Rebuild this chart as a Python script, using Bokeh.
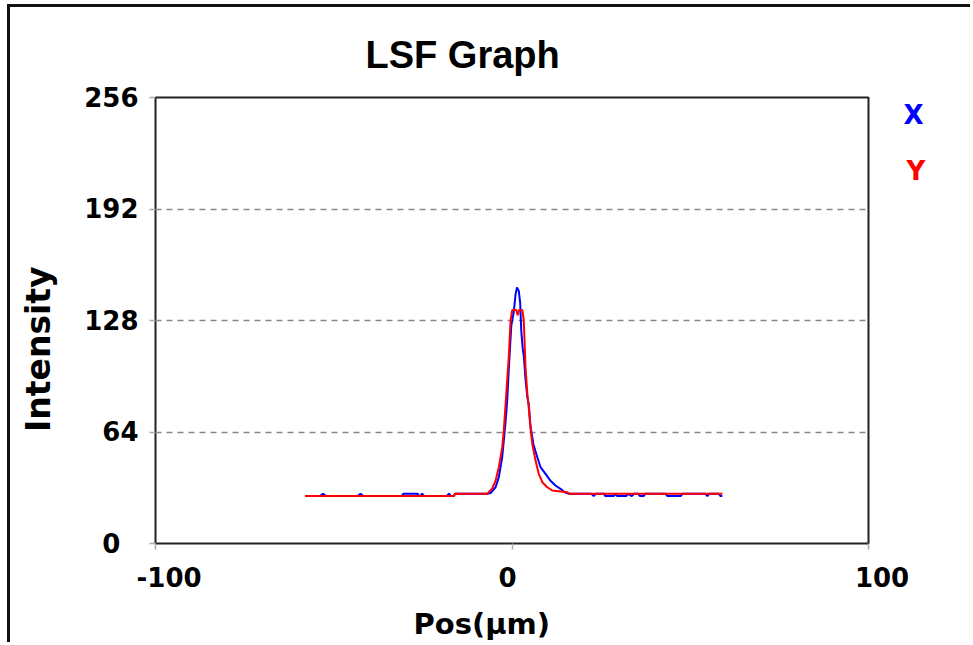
from bokeh.plotting import figure
from bokeh.models import FixedTicker, Range1d, LinearAxis
from bokeh.embed import file_html
from bokeh.resources import INLINE

# ---- data ----
x_ticks = [-100, 0, 100]
y_ticks = [0, 64, 128, 192, 256]
grid_ticks = [64, 128, 192]

blue_x = [-58, -53.8, -53, -52.2, -43.3, -42.5, -41.7, -31, -30.4, -26.5, -26, -25.7,
          -25.2, -24.6, -18.3, -17.7, -17.1, -16.3, -16, -7, -6, -4.6, -3.7, -2.75,
          -2.3, -1.8, -1.35, -0.9, -0.2, 0.5, 1.0, 1.4, 1.9, 2.3, 2.6, 3.0, 3.3, 3.8,
          4.3, 4.7, 5.2, 6.0, 7.1, 8.0, 9.4, 10.8, 12.2, 13.6, 14.8, 16, 22.3, 22.9,
          23.5, 25.8, 26.2, 28.5, 29.0, 29.5, 32.0, 32.5, 33.6, 34.2, 35.4, 35.9, 36.9,
          37.4, 43.1, 43.6, 47.3, 47.8, 54.3, 54.8, 55.3, 58.0, 58.5, 59]
blue_y = [27.2, 27.2, 28.6, 27.2, 27.2, 28.6, 27.2, 27.2, 28.6, 28.6, 27.2, 27.2,
          28.6, 27.2, 27.2, 28.6, 27.2, 27.2, 28.5, 28.5, 29, 32.3, 38, 49.5,
          59, 70, 82, 100, 125, 133, 143, 147, 145, 138, 122, 112, 108, 94,
          84, 80, 67, 57, 49.5, 43.8, 40, 36, 33.3, 31.4, 29.4, 28.5, 28.5, 27.2,
          28.5, 28.5, 27.2, 27.2, 28.5, 27.2, 27.2, 28.5, 27.2, 28.5, 28.5, 27.2, 27.2,
          28.5, 28.5, 27.2, 27.2, 28.5, 28.5, 27.2, 28.5, 28.5, 27.2, 27.2]

red_x = [-58, -16.3, -16, -7, -5.6, -4.6, -3.7, -2.75, -2.3, -1.8, -1.35, -0.9,
         -0.4, 0.05, 1.2, 1.6, 2.0, 2.9, 3.3, 3.8, 4.3, 4.7, 5.2, 5.7, 6.6, 7.5,
         8.5, 9.9, 11.3, 15.5, 16, 59]
red_y = [27.2, 27.2, 28.5, 28.5, 31.4, 36, 43.8, 55, 65, 80, 93.6, 107,
         128, 134, 134, 131, 134, 134, 128, 101, 86, 78, 66, 57, 47.6, 40,
         35.2, 32.3, 30.4, 29.4, 28.5, 28.5]

title_text = "LSF Graph"
x_label = "Pos(μm)"
y_label = "Intensity"
series_names = ["X", "Y"]
series_colors = ["#0000FF", "#FF0000"]
legend_levels = [246, 214]

NB = "\u00a0"

p = figure(width=963, height=638, output_backend="svg", toolbar_location=None,
           x_range=Range1d(-100, 100), y_range=Range1d(0, 256),
           min_border_left=145, min_border_right=105, min_border_top=90, min_border_bottom=102)
p.styles = {"border-left": "3px solid #111", "border-top": "3px solid #111",
            "margin-left": "7px", "margin-top": "4px"}
p.background_fill_color = "white"
p.border_fill_color = "white"
p.outline_line_color = "#222222"
p.outline_line_width = 2

p.title.text = title_text
p.title.align = "left"
p.title.offset = 210
p.title.standoff = 44
p.title.text_font = "Liberation Sans"
p.title.text_font_style = "bold"
p.title.text_font_size = "38px"
p.title.text_color = "black"

p.xgrid.visible = False
p.ygrid.ticker = FixedTicker(ticks=grid_ticks)
p.ygrid.grid_line_color = "#888888"
p.ygrid.grid_line_width = 1.5
p.ygrid.grid_line_dash = "6 5"

p.xaxis.ticker = FixedTicker(ticks=x_ticks)
p.xaxis.major_label_overrides = {-100: NB * 3 + "-100", 0: "0" + NB, 100: NB * 3 + "100"}
p.yaxis.ticker = FixedTicker(ticks=y_ticks)
p.yaxis.major_label_overrides = {0: "0" + NB * 2}
for ax in (p.xaxis[0], p.yaxis[0]):
    ax.axis_line_color = None
    ax.major_tick_line_color = "#aaaaaa"
    ax.major_tick_line_width = 1.5
    ax.major_tick_out = 6
    ax.major_tick_in = 0
    ax.minor_tick_line_color = None
    ax.major_label_text_font = "DejaVu Sans"
    ax.major_label_text_font_style = "bold"
    ax.major_label_text_font_size = "26px"
    ax.major_label_text_color = "black"
    ax.axis_label_text_font = "DejaVu Sans"
    ax.axis_label_text_font_style = "bold"
    ax.axis_label_text_color = "black"
p.yaxis.major_label_standoff = 11
p.xaxis.major_label_standoff = 13
p.xaxis.axis_label = x_label + NB * 6
p.xaxis.axis_label_text_font_size = "29px"
p.xaxis.axis_label_standoff = 11
p.yaxis.axis_label = y_label + NB * 5
p.yaxis.axis_label_text_font_size = "33px"
p.yaxis.axis_label_standoff = 23

# series name markers on the right (coloured texts beside the frame)
standoffs = [35, -20]
for name, color, lvl, so in zip(series_names, series_colors, legend_levels, standoffs):
    ax = LinearAxis(ticker=FixedTicker(ticks=[lvl]), major_label_overrides={lvl: name})
    ax.axis_line_color = None
    ax.major_tick_line_color = None
    ax.minor_tick_line_color = None
    ax.major_tick_out = 0
    ax.major_tick_in = 0
    ax.major_label_standoff = so
    ax.major_label_text_font = "DejaVu Sans"
    ax.major_label_text_font_style = "bold"
    ax.major_label_text_font_size = "26px"
    ax.major_label_text_color = color
    p.add_layout(ax, "right")

p.line(blue_x, blue_y, line_color=series_colors[0], line_width=2)
p.line(red_x, red_y, line_color=series_colors[1], line_width=2)

open("out.html", "w").write(file_html(p, INLINE))
